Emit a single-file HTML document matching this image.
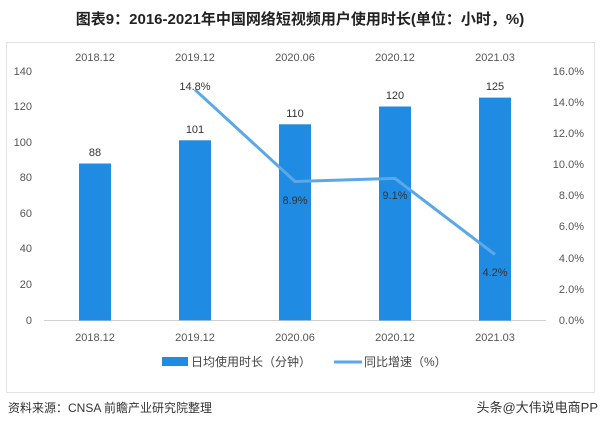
<!DOCTYPE html><html><head><meta charset="utf-8"><style>
body{margin:0;background:#fff;width:600px;height:426px;overflow:hidden;font-family:"Liberation Sans","Noto Sans CJK SC",sans-serif}
</style></head><body>
<svg width="600" height="426" xmlns="http://www.w3.org/2000/svg" font-family="Liberation Sans, Noto Sans CJK SC, sans-serif">
<text x="300" y="24" text-anchor="middle" font-size="15" font-weight="bold" fill="#222">图表9：2016-2021年中国网络短视频用户使用时长(单位：小时，%)</text>
<rect x="6.5" y="42.5" width="588" height="350" fill="none" stroke="#e2e2e2"/>
<g font-size="11" fill="#555">
<text x="32" y="75" text-anchor="end">140</text><text x="32" y="110" text-anchor="end">120</text><text x="32" y="146" text-anchor="end">100</text><text x="32" y="181" text-anchor="end">80</text><text x="32" y="217" text-anchor="end">60</text><text x="32" y="252" text-anchor="end">40</text><text x="32" y="288" text-anchor="end">20</text><text x="32" y="324" text-anchor="end">0</text>
<g text-anchor="end"><text x="584" y="75">16.0%</text><text x="584" y="106">14.0%</text><text x="584" y="137">12.0%</text><text x="584" y="168">10.0%</text><text x="584" y="199">8.0%</text><text x="584" y="230">6.0%</text><text x="584" y="262">4.0%</text><text x="584" y="293">2.0%</text><text x="584" y="324">0.0%</text></g>
<g text-anchor="middle"><text x="95" y="61">2018.12</text><text x="195" y="61">2019.12</text><text x="295" y="61">2020.06</text><text x="395" y="61">2020.12</text><text x="495" y="61">2021.03</text>
<text x="95" y="341">2018.12</text><text x="195" y="341">2019.12</text><text x="295" y="341">2020.06</text><text x="395" y="341">2020.12</text><text x="495" y="341">2021.03</text></g>
</g>
<line x1="44" y1="320.5" x2="546" y2="320.5" stroke="#d0d0d0"/>
<g fill="#1f8be2">
<rect x="79" y="163.5" width="32" height="157"/><rect x="179" y="140.3" width="32" height="180"/><rect x="279" y="124.3" width="32" height="196"/><rect x="379" y="106.5" width="32" height="214"/><rect x="479" y="97.6" width="32" height="223"/>
</g>
<g font-size="11" fill="#333" text-anchor="middle">
<text x="95" y="156">88</text><text x="195" y="133">101</text><text x="295" y="117">110</text><text x="395" y="99">120</text><text x="495" y="90">125</text>
</g>
<polyline points="195,89.7 295,181.5 395,178.4 495,254.6" fill="none" stroke="#5ba8e6" stroke-width="3"/>
<g font-size="11" fill="#333" text-anchor="middle">
<text x="195" y="90">14.8%</text><text x="295" y="204">8.9%</text><text x="395" y="199">9.1%</text><text x="495" y="276">4.2%</text>
</g>
<rect x="162" y="357" width="26" height="9" fill="#1f8be2"/>
<text x="191" y="366" font-size="12" fill="#444">日均使用时长（分钟）</text>
<line x1="334" y1="362" x2="362" y2="362" stroke="#5ba8e6" stroke-width="3"/>
<text x="364" y="366" font-size="12" fill="#444">同比增速（%）</text>
<text x="8" y="412" font-size="12" fill="#333">资料来源：CNSA 前瞻产业研究院整理</text>
<text x="598" y="412" font-size="13" fill="#333" text-anchor="end">头条@大伟说电商PP</text>
</svg>
</body></html>
